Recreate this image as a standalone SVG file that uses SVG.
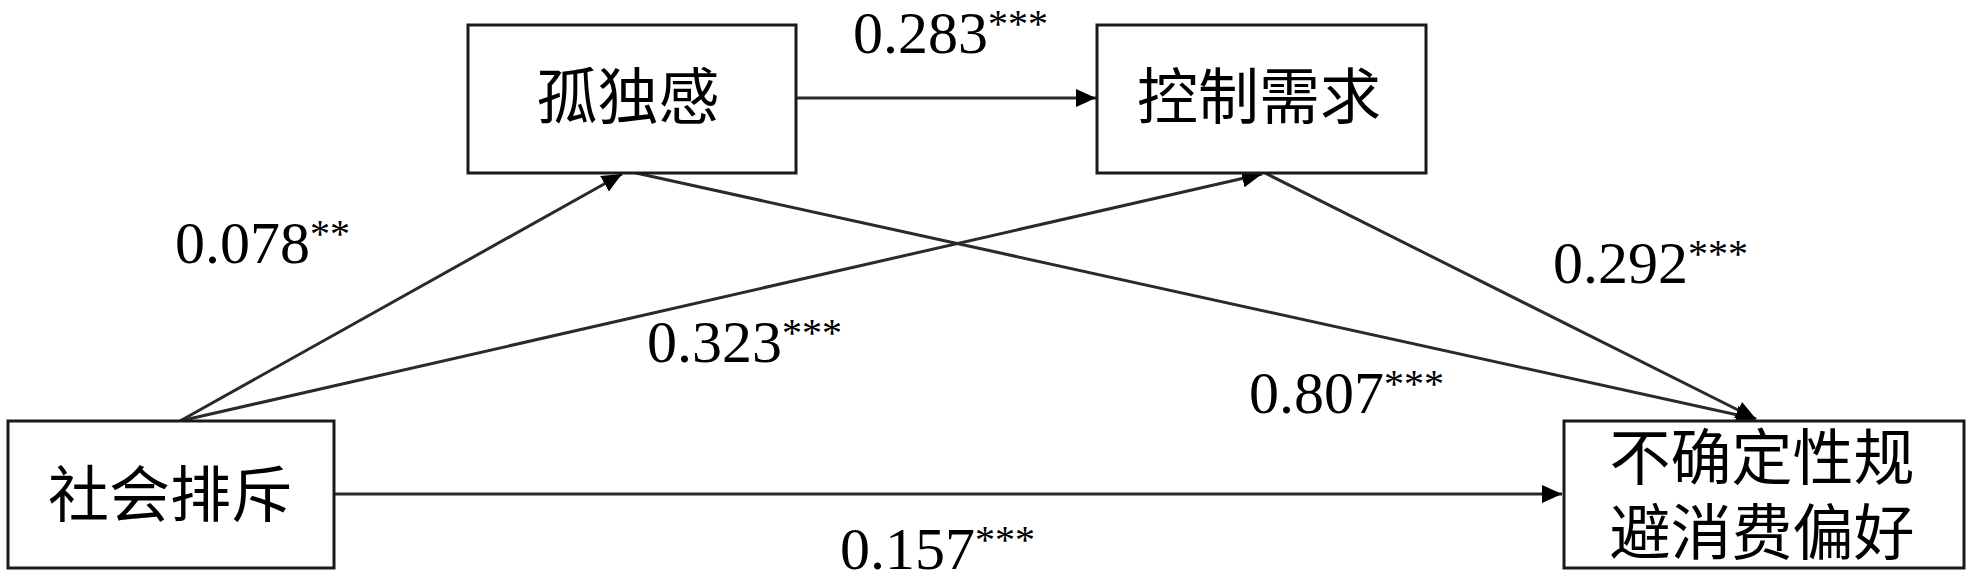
<svg xmlns="http://www.w3.org/2000/svg" width="1969" height="581" viewBox="0 0 1969 581">
<style>
.box{fill:#fff;stroke:#1a1a1a;stroke-width:3}
.lbl{font-family:"Liberation Serif","Noto Sans CJK SC",serif;font-size:61px;fill:#000;text-anchor:middle}
.num{font-family:"Liberation Serif",serif;font-size:60px;fill:#000}
.sup{font-size:40px}
.conn{stroke:#2a2a2a;stroke-width:3;fill:none;marker-end:url(#arr)}
</style>
<defs>
<marker id="arr" markerUnits="userSpaceOnUse" markerWidth="20" markerHeight="20" viewBox="0 0 20 20" refX="20" refY="10" orient="auto">
<path d="M0,1 L20,10 L0,19 Z" fill="#000"/>
</marker>
</defs>
<g id="connectors">
<line class="conn" x1="180" y1="421" x2="622" y2="174"/>
<line class="conn" x1="180" y1="421" x2="1262" y2="174"/>
<line class="conn" x1="636" y1="173" x2="1756" y2="419"/>
<line class="conn" x1="1265" y1="173" x2="1756" y2="419"/>
<line class="conn" x1="796" y1="98" x2="1096" y2="98"/>
<line class="conn" x1="334" y1="494" x2="1562" y2="494"/>
</g>
<g id="node-loneliness">
<rect class="box" x="468" y="25" width="328" height="148"/>
<text class="lbl" x="628" y="119">孤独感</text>
</g>
<g id="node-control">
<rect class="box" x="1097" y="25" width="329" height="148"/>
<text class="lbl" x="1259" y="119">控制需求</text>
</g>
<g id="node-exclusion">
<rect class="box" x="8" y="421" width="326" height="147"/>
<text class="lbl" x="170" y="517">社会排斥</text>
</g>
<g id="node-preference">
<rect class="box" x="1564" y="421" width="400" height="147"/>
<text class="lbl" x="1762" y="480">不确定性规</text>
<text class="lbl" x="1762" y="555">避消费偏好</text>
</g>
<g id="labels">
<text class="num" x="853" y="53">0.283<tspan class="sup" dy="-16">***</tspan></text>
<text class="num" x="175" y="263">0.078<tspan class="sup" dy="-16">**</tspan></text>
<text class="num" x="647" y="362">0.323<tspan class="sup" dy="-16">***</tspan></text>
<text class="num" x="1553" y="283">0.292<tspan class="sup" dy="-16">***</tspan></text>
<text class="num" x="1249" y="413">0.807<tspan class="sup" dy="-16">***</tspan></text>
<text class="num" x="840" y="569">0.157<tspan class="sup" dy="-16">***</tspan></text>
</g>
</svg>
